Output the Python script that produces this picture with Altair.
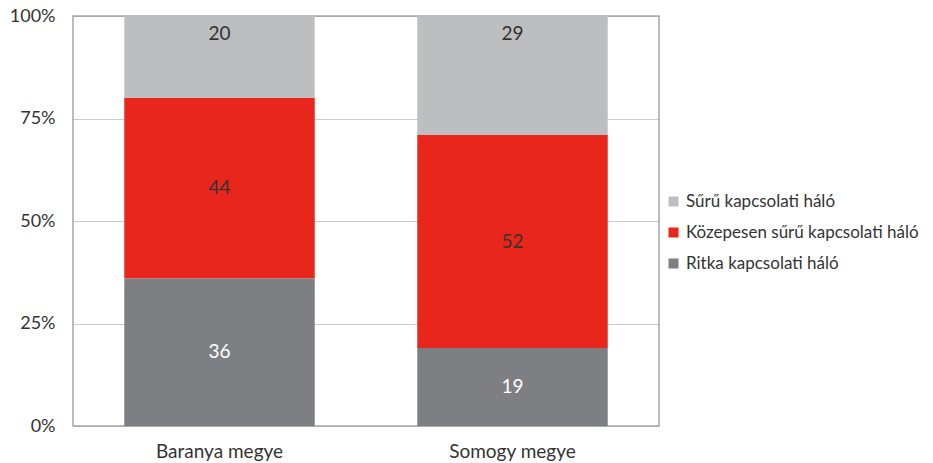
import altair as alt
import pandas as pd

counties = ["Baranya megye", "Somogy megye"]
categories = ["Sűrű kapcsolati háló", "Közepesen sűrű kapcsolati háló", "Ritka kapcsolati háló"]
baranya = [20, 44, 36]
somogy = [29, 52, 19]
colors = ["#BDBEC0", "#E8261C", "#7E7F83"]
text_colors = ["#333333", "#333333", "#FFFFFF"]

rows = []
for county, vals in zip(counties, [baranya, somogy]):
    for i, (cat, v) in enumerate(zip(categories, vals)):
        rows.append({"county": county, "cat": cat, "value": v, "order": len(categories) - i,
                     "tcolor": text_colors[i]})
df = pd.DataFrame(rows)

FONT = "Lato"

base = alt.Chart(df).transform_stack(
    stack="value", groupby=["county"], as_=["y0", "y1"],
    sort=[alt.SortField("order", order="ascending")]
).transform_calculate(
    mid="datum.order == 3 ? datum.y1 - 4.4 : (datum.y0 + datum.y1) / 2"
)

x_enc = alt.X("county:N", sort=counties, title=None,
              scale=alt.Scale(paddingInner=0.35, paddingOuter=0.175),
              axis=alt.Axis(labelAngle=0, labelFontSize=19, labelColor="#333333", labelFont=FONT,
                            ticks=False, domain=False, labelPadding=16))

bars = base.mark_bar().encode(
    x=x_enc,
    y=alt.Y("y0:Q", title=None, scale=alt.Scale(domain=[0, 100], nice=False),
            axis=alt.Axis(values=[0, 25, 50, 75, 100], labelExpr="datum.value + '%'",
                          labelFontSize=18, labelColor="#333333", labelFont=FONT,
                          ticks=False, domain=False, labelPadding=18,
                          grid=True, gridColor="#999999", gridDash=[1, 1], gridWidth=1)),
    y2="y1:Q",
    color=alt.Color("cat:N", sort=categories, title=None,
                    scale=alt.Scale(domain=categories, range=colors),
                    legend=alt.Legend(orient="none", legendX=592, legendY=177,
                                      symbolType="square", symbolSize=100, symbolStrokeWidth=0,
                                      labelFontSize=17, labelFont=FONT, labelColor="#333333",
                                      rowPadding=13, labelOffset=4, labelLimit=400)),
)

labels = base.mark_text(fontSize=19, font=FONT).encode(
    x=alt.X("county:N", sort=counties),
    y=alt.Y("mid:Q"),
    text=alt.Text("value:Q"),
    color=alt.Color("tcolor:N", scale=None),
)

chart = alt.layer(bars, labels).properties(
    width=586, height=410,
    autosize=alt.AutoSizeParams(type="none"),
    padding={"left": 65, "top": 8, "right": 266, "bottom": 37},
).configure_view(stroke="#A6A6A6", strokeWidth=1.5)

chart.save("out.html", embed_options={"renderer": "svg", "actions": False})
